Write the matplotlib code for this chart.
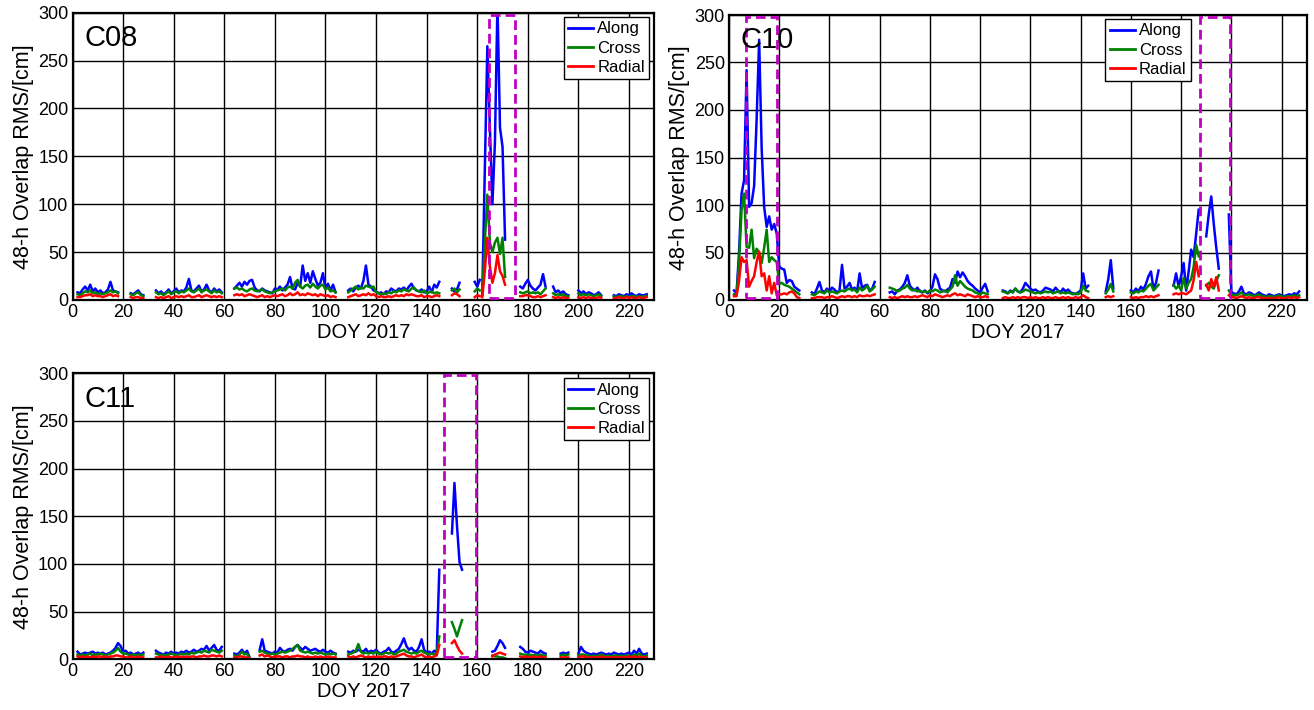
import numpy as np
import matplotlib
matplotlib.use('Agg')
import matplotlib.pyplot as plt
from matplotlib.patches import Rectangle

plt.rcParams['font.family'] = ['Liberation Sans', 'DejaVu Sans']

# each panel: segment start days (DOY) and daily values per segment
c08_start = [2, 23, 33, 64, 109, 150, 159, 162, 177, 190, 200, 214]
c08_along = [
    [8, 7, 11, 14, 10, 16, 9, 12, 8, 10, 7, 8, 11, 19, 10, 9, 8],
    [7, 6, 8, 10, 6, 5],
    [10, 7, 9, 6, 8, 11, 7, 9, 12, 8, 10, 9, 13, 22, 10, 9, 12, 15, 9, 11, 16, 10, 8, 12, 9, 11, 8],
    [12, 15, 18, 14, 19, 16, 20, 21, 13, 10, 9, 12, 10, 9, 8, 7, 12, 11, 14, 10, 13, 16, 24, 12, 11, 18, 14,
     36, 20, 28, 18, 30, 22, 15, 18, 28, 12, 17, 10, 16, 8],
    [10, 12, 9, 13, 15, 12, 20, 36, 16, 14, 10, 9, 7, 8, 6, 9, 8, 12, 10, 9, 12, 11, 13, 10, 14, 17, 12, 10,
     9, 11, 8, 9, 14, 8, 16, 13, 19],
    [12, 9, 11, 18],
    [19, 14, 21],
    [7, 135, 265, 180, 100, 165, 310, 180, 160, 63],
    [14, 12, 17, 21, 15, 12, 10, 13, 16, 27, 14],
    [14, 8, 10, 7, 9, 6, 5],
    [10, 7, 9, 6, 8, 7, 5, 6, 8, 5],
    [5, 4, 6, 5, 4, 6, 5, 7, 5, 4, 6, 5, 5, 6],
]
c08_cross = [
    [6, 5, 7, 9, 8, 10, 7, 8, 6, 7, 6, 7, 8, 10, 8, 9, 7],
    [6, 5, 7, 8, 5, 4],
    [8, 6, 7, 5, 7, 9, 6, 8, 9, 7, 9, 8, 10, 12, 9, 8, 10, 12, 8, 10, 11, 9, 7, 10, 8, 9, 7],
    [12, 13, 11, 12, 10, 9, 11, 12, 10, 9, 10, 11, 9, 8, 7, 8, 9, 10, 11, 12, 10, 13, 14, 12, 18, 21, 14,
     12, 15, 16, 13, 17, 14, 12, 15, 16, 11, 13, 9, 10, 8],
    [8, 10, 12, 14, 11, 13, 12, 15, 14, 13, 14, 8, 7, 6, 7, 6, 8, 7, 9, 8, 10, 9, 11, 10, 9, 12, 13, 10, 9,
     8, 10, 7, 8, 9, 7, 8, 7],
    [10, 12, 8, 11],
    [9, 12, 10],
    [5, 60, 110, 60, 50, 60, 65, 48, 65, 24],
    [8, 7, 8, 9, 7, 8, 7, 8, 6, 9, 12],
    [7, 5, 6, 5, 6, 4, 4],
    [7, 5, 6, 5, 6, 5, 4, 5, 6, 4],
    [4, 3, 4, 4, 3, 4, 3, 4, 4, 3, 4, 3, 4, 4],
]
c08_radial = [
    [3, 3, 4, 5, 5, 6, 4, 5, 4, 4, 3, 4, 5, 6, 4, 5, 4],
    [3, 2, 3, 3, 2, 2],
    [3, 2, 3, 2, 3, 4, 2, 3, 4, 3, 4, 3, 4, 5, 3, 3, 4, 5, 3, 4, 5, 4, 3, 4, 3, 4, 3],
    [5, 6, 5, 6, 4, 5, 6, 5, 4, 3, 4, 5, 3, 4, 3, 4, 5, 4, 5, 6, 4, 5, 7, 5, 6, 8, 5, 6, 5, 7, 6, 5, 6, 4,
     6, 5, 4, 5, 3, 4, 3],
    [3, 4, 5, 6, 4, 5, 6, 5, 7, 5, 6, 4, 3, 4, 3, 3, 4, 3, 4, 5, 4, 5, 4, 6, 5, 6, 5, 4, 4, 5, 3, 4, 4, 3,
     4, 5, 4],
    [5, 7, 6, 4],
    [3, 5, 4],
    [3, 30, 65, 35, 18, 28, 47, 30, 25, 16],
    [4, 4, 5, 5, 4, 3, 3, 4, 3, 4, 5],
    [3, 2, 3, 2, 3, 2, 2],
    [3, 2, 3, 2, 3, 2, 2, 2, 3, 2],
    [2, 2, 3, 2, 2, 3, 2, 3, 2, 2, 3, 2, 2, 3],
]

c10_start = [2, 33, 64, 109, 150, 160, 177, 190, 199]
c10_along = [
    [10, 7, 50, 112, 126, 242, 98, 102, 120, 190, 274, 160, 98, 77, 88, 74, 80, 70, 35, 33, 32, 18, 21, 20,
     14, 12, 10],
    [8, 6, 12, 19, 10, 8, 12, 9, 13, 11, 8, 10, 37, 12, 14, 18, 11, 13, 9, 28, 12, 15, 16, 10, 12, 19],
    [8, 9, 6, 10, 11, 14, 18, 26, 15, 12, 10, 13, 9, 8, 10, 7, 9, 14, 27, 22, 12, 10, 9, 11, 13, 22, 18,
     30, 24, 29, 25, 20, 17, 15, 12, 10, 8, 13, 17, 9],
    [10, 9, 7, 10, 8, 12, 9, 8, 12, 18, 15, 12, 10, 11, 9, 8, 10, 13, 12, 11, 9, 13, 10, 8, 12, 9, 11, 8,
     7, 6, 8, 10, 28, 12, 15],
    [9, 22, 42, 12],
    [10, 8, 12, 9, 14, 11, 17, 25, 30, 12, 18, 31],
    [15, 28, 14, 25, 39, 10, 30, 53, 45, 70, 95],
    [67, 90, 109, 80, 55, 33],
    [90, 8, 7, 6, 9, 14, 7, 6, 8, 7, 5, 6, 8, 6, 5, 4, 6, 5, 4, 5, 6, 5, 4, 5, 6, 5, 7, 6, 9],
]
c10_cross = [
    [6, 5, 40, 95, 112, 56, 55, 74, 44, 54, 50, 39, 55, 74, 40, 45, 42, 40, 17, 18, 16, 15, 14, 12, 10, 8, 6],
    [6, 5, 7, 9, 8, 7, 10, 8, 9, 8, 7, 9, 10, 9, 11, 12, 10, 11, 8, 13, 10, 12, 15, 9, 11, 14],
    [13, 12, 11, 9, 10, 12, 13, 16, 12, 10, 11, 9, 10, 8, 9, 8, 10, 9, 11, 10, 8, 9, 10, 8, 11, 14, 26, 15,
     20, 17, 14, 12, 11, 10, 8, 7, 6, 8, 7, 6],
    [9, 8, 7, 9, 8, 12, 9, 8, 9, 11, 10, 9, 8, 7, 8, 7, 8, 9, 8, 9, 7, 8, 9, 7, 8, 7, 8, 7, 6, 7, 6, 8, 15,
     10, 9],
    [7, 11, 17, 9],
    [8, 7, 9, 8, 10, 9, 12, 15, 17, 10, 13, 16],
    [16, 12, 15, 10, 23, 12, 18, 22, 35, 58, 46],
    [15, 18, 14, 12, 20, 26],
    [10, 6, 5, 5, 6, 8, 5, 5, 6, 5, 4, 5, 6, 4, 4, 3, 4, 4, 3, 4, 5, 4, 3, 4, 4, 4, 5, 4, 5],
]
c10_radial = [
    [4, 4, 20, 45, 40, 42, 14, 20, 25, 40, 51, 25, 28, 10, 25, 7, 18, 5, 6, 6, 7, 6, 8, 9, 7, 3, 2],
    [2, 2, 3, 3, 3, 2, 3, 3, 4, 3, 2, 3, 4, 3, 4, 4, 3, 4, 3, 5, 4, 4, 5, 4, 5, 6],
    [3, 2, 3, 2, 3, 4, 3, 4, 3, 3, 4, 3, 4, 5, 4, 3, 5, 4, 6, 5, 4, 3, 4, 5, 4, 6, 7, 5, 6, 5, 4, 6, 5, 4,
     3, 4, 3, 3, 4, 3],
    [2, 3, 2, 2, 3, 2, 3, 2, 3, 3, 2, 3, 2, 3, 2, 2, 3, 2, 3, 2, 2, 3, 2, 2, 3, 2, 3, 2, 2, 3, 2, 3, 5, 3, 2],
    [3, 4, 3, 4],
    [3, 2, 3, 2, 3, 3, 4, 3, 4, 3, 4, 5],
    [6, 7, 6, 7, 7, 6, 8, 10, 21, 40, 25],
    [16, 10, 22, 14, 24, 10],
    [5, 3, 3, 2, 3, 4, 3, 2, 3, 2, 2, 3, 3, 2, 2, 2, 2, 2, 2, 2, 3, 2, 2, 2, 3, 2, 3, 2, 3],
]

c11_start = [2, 33, 64, 74, 109, 150, 166, 177, 193, 200]
c11_along = [
    [8, 5, 6, 7, 6, 7, 8, 6, 7, 6, 7, 5, 6, 7, 9, 12, 17, 14, 8, 9, 6, 7, 5, 6, 7, 5, 7],
    [9, 7, 6, 5, 7, 6, 8, 6, 7, 6, 8, 7, 9, 7, 8, 10, 8, 9, 11, 10, 14, 9, 12, 15, 10, 9, 13],
    [6, 5, 7, 10, 6, 9, 2],
    [10, 21, 9, 8, 7, 6, 8, 7, 12, 9, 8, 10, 11, 9, 13, 15, 12, 10, 13, 11, 9, 10, 11, 9, 8, 10, 8, 7, 9, 7, 6],
    [8, 7, 9, 8, 10, 9, 8, 11, 7, 9, 8, 10, 7, 6, 8, 9, 12, 8, 7, 9, 11, 16, 22, 14, 10, 12, 9, 8, 13, 21,
     10, 7, 8, 6, 9, 7, 94],
    [132, 185, 140, 102, 94],
    [8, 9, 14, 20, 17, 12],
    [13, 11, 8, 7, 9, 8, 7, 6, 9, 7, 6],
    [6, 7, 6, 7],
    [6, 13, 9, 7, 6, 5, 6, 5, 6, 7, 6, 5, 6, 5, 7, 6, 5, 6, 5, 6, 7, 5, 9, 6, 11, 6, 5, 6],
]
c11_cross = [
    [5, 4, 5, 4, 5, 6, 4, 5, 5, 6, 5, 4, 5, 6, 7, 9, 12, 8, 6, 6, 5, 4, 5, 4, 5, 4, 5],
    [6, 5, 4, 5, 4, 5, 6, 5, 4, 5, 6, 5, 6, 5, 7, 6, 7, 8, 7, 9, 8, 7, 10, 9, 8, 7, 9],
    [4, 3, 5, 8, 5, 6, 1],
    [8, 9, 7, 6, 5, 6, 5, 6, 7, 8, 7, 8, 9, 11, 13, 15, 9, 8, 7, 8, 7, 6, 7, 6, 7, 6, 5, 6, 5, 6, 5],
    [5, 6, 7, 9, 16, 8, 6, 7, 6, 7, 6, 8, 6, 5, 6, 7, 6, 7, 5, 6, 8, 9, 10, 8, 7, 6, 7, 6, 8, 9, 7, 6, 5,
     6, 5, 6, 24],
    [39, 32, 24, 33, 41],
    [4, 3, 3, 2, 2, 1],
    [6, 5, 5, 4, 5, 4, 5, 4, 5, 4, 4],
    [4, 5, 4, 5],
    [4, 5, 5, 4, 4, 3, 4, 3, 4, 5, 4, 3, 4, 3, 4, 4, 3, 4, 3, 4, 4, 3, 5, 4, 6, 4, 3, 4],
]
c11_radial = [
    [3, 2, 3, 2, 3, 2, 3, 2, 3, 3, 2, 3, 2, 3, 3, 4, 4, 3, 3, 2, 2, 3, 2, 2, 3, 2, 2],
    [2, 2, 3, 2, 2, 3, 2, 2, 3, 2, 3, 2, 3, 2, 3, 3, 2, 3, 3, 4, 3, 3, 4, 4, 3, 4, 3],
    [2, 2, 3, 3, 2, 2, 1],
    [4, 5, 3, 4, 3, 2, 3, 3, 3, 2, 3, 3, 2, 3, 3, 4, 3, 3, 2, 3, 2, 2, 3, 2, 3, 2, 2, 3, 2, 2, 2],
    [3, 2, 3, 2, 3, 4, 3, 2, 3, 2, 3, 2, 3, 2, 3, 3, 2, 3, 2, 3, 4, 5, 6, 4, 3, 3, 2, 3, 4, 5, 3, 2, 3, 2,
     3, 4, 15],
    [17, 20, 14, 9, 6],
    [3, 5, 6, 7, 6, 5],
    [3, 2, 3, 2, 2, 3, 2, 2, 3, 2, 2],
    [2, 2, 2, 2],
    [2, 3, 3, 2, 2, 2, 2, 2, 2, 3, 2, 2, 2, 2, 2, 2, 2, 2, 2, 2, 3, 2, 3, 2, 3, 2, 2, 2],
]

# dashed boxes marking the eclipse periods (DOY from, DOY to)
c08_boxes = [(164.5, 175.0)]
c10_boxes = [(6.6, 19.2), (187.6, 199.5)]
c11_boxes = [(146.9, 159.4)]


def join(starts, segs):
    xs, ys = [], []
    for s, seg in zip(starts, segs):
        xs += list(range(s, s + len(seg))) + [np.nan]
        ys += list(seg) + [np.nan]
    return np.array(xs, float), np.array(ys, float)


def panel(ax, name, starts, along, cross, radial, boxes, leg_anchor):
    for segs, col, lab in [(along, '#0000FF', 'Along'),
                           (cross, '#008000', 'Cross'),
                           (radial, '#FF0000', 'Radial')]:
        x, y = join(starts, segs)
        ax.plot(x, y, color=col, lw=1.8, label=lab)
    for x0, x1 in boxes:
        ax.add_patch(Rectangle((x0, 2.5), x1 - x0, 295.5, fill=False, edgecolor='#BF00BF',
                               lw=2, ls=(0, (3.5, 1.8)), zorder=5))
    ax.set_xlim(0, 230)
    ax.set_ylim(0, 300)
    ax.set_xticks(np.arange(0, 221, 20))
    ax.set_yticks(np.arange(0, 301, 50))
    ax.grid(True, color='black', lw=1.0)
    ax.set_axisbelow(True)
    ax.tick_params(labelsize=13, length=0, pad=3)
    for sp in ax.spines.values():
        sp.set_linewidth(1.6)
    ax.set_xlabel('DOY 2017', fontsize=14.5, labelpad=1)
    ax.set_ylabel('48-h Overlap RMS/[cm]', fontsize=15.5, labelpad=3)
    ax.text(4.7, 265, name, fontsize=21, va='baseline', zorder=6)
    leg = ax.legend(loc='upper right', bbox_to_anchor=leg_anchor, borderaxespad=0,
                    fontsize=12, handlelength=1.5, handletextpad=0.25, labelspacing=0.25,
                    borderpad=0.25, fancybox=False, framealpha=1, edgecolor='black')
    leg.get_frame().set_linewidth(1.0)
    for h in leg.get_lines():
        h.set_linewidth(2)


fig = plt.figure(figsize=(13.14, 7.10), dpi=100)
W, H = 1314, 710
ax1 = fig.add_axes([72.5 / W, 1 - 300 / H, 581.8 / W, 287.3 / H])
ax2 = fig.add_axes([729 / W, 1 - 300 / H, 577.7 / W, 285 / H])
ax3 = fig.add_axes([72.5 / W, 1 - 659.3 / H, 581.8 / W, 286 / H])

panel(ax1, 'C08', c08_start, c08_along, c08_cross, c08_radial, c08_boxes, (0.991, 0.984))
panel(ax2, 'C10', c10_start, c10_along, c10_cross, c10_radial, c10_boxes, (0.799, 0.985))
panel(ax3, 'C11', c11_start, c11_along, c11_cross, c11_radial, c11_boxes, (0.991, 0.982))

fig.savefig('out.png', dpi=100)
